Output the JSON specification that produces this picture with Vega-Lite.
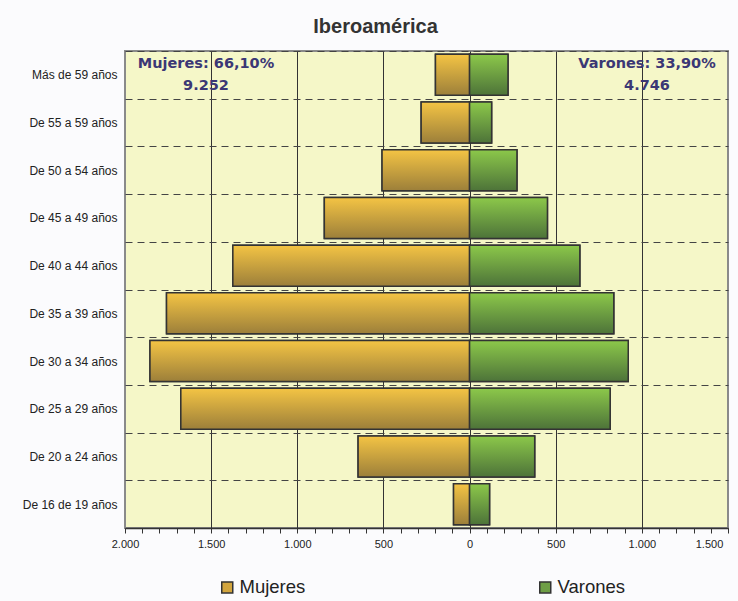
{
  "$schema": "https://vega.github.io/schema/vega-lite/v6.json",
  "autosize": {"type": "none"},
  "padding": {"left": 125, "top": 51, "right": 10, "bottom": 73},
  "width": 603,
  "height": 477,
  "background": "#fbfbfd",
  "title": {
    "text": "Iberoamérica",
    "anchor": "middle",
    "dx": -51,
    "offset": 8,
    "font": "Liberation Sans",
    "fontSize": 20,
    "fontWeight": "bold",
    "color": "#333333"
  },
  "datasets": {
    "barras": [
      {"grupo": "Más de 59 años", "sexo": "Mujeres", "valor": -198},
      {"grupo": "De 55 a 59 años", "sexo": "Mujeres", "valor": -281},
      {"grupo": "De 50 a 54 años", "sexo": "Mujeres", "valor": -508},
      {"grupo": "De 45 a 49 años", "sexo": "Mujeres", "valor": -843},
      {"grupo": "De 40 a 44 años", "sexo": "Mujeres", "valor": -1374},
      {"grupo": "De 35 a 39 años", "sexo": "Mujeres", "valor": -1759},
      {"grupo": "De 30 a 34 años", "sexo": "Mujeres", "valor": -1855},
      {"grupo": "De 25 a 29 años", "sexo": "Mujeres", "valor": -1676},
      {"grupo": "De 20 a 24 años", "sexo": "Mujeres", "valor": -647},
      {"grupo": "De 16 de 19 años", "sexo": "Mujeres", "valor": -93},
      {"grupo": "Más de 59 años", "sexo": "Varones", "valor": 223},
      {"grupo": "De 55 a 59 años", "sexo": "Varones", "valor": 128},
      {"grupo": "De 50 a 54 años", "sexo": "Varones", "valor": 275},
      {"grupo": "De 45 a 49 años", "sexo": "Varones", "valor": 452},
      {"grupo": "De 40 a 44 años", "sexo": "Varones", "valor": 640},
      {"grupo": "De 35 a 39 años", "sexo": "Varones", "valor": 837},
      {"grupo": "De 30 a 34 años", "sexo": "Varones", "valor": 921},
      {"grupo": "De 25 a 29 años", "sexo": "Varones", "valor": 816},
      {"grupo": "De 20 a 24 años", "sexo": "Varones", "valor": 378},
      {"grupo": "De 16 de 19 años", "sexo": "Varones", "valor": 116}
    ],
    "notas": [
      {"grupo": "Más de 59 años", "valor": -1530, "linea1": "Mujeres: 66,10%", "linea2": "9.252"},
      {"grupo": "Más de 59 años", "valor": 1030, "linea1": "Varones: 33,90%", "linea2": "4.746"}
    ]
  },
  "encoding": {
    "x": {
      "field": "valor",
      "type": "quantitative",
      "scale": {"domain": [-2000, 1500], "nice": false, "zero": false},
      "axis": {
        "title": null,
        "values": [-2000,-1900,-1800,-1700,-1600,-1500,-1400,-1300,-1200,-1100,-1000,-900,-800,-700,-600,-500,-400,-300,-200,-100,0,100,200,300,400,500,600,700,800,900,1000,1100,1200,1300,1400,1500],
        "labelExpr": "datum.value % 500 === 0 ? replace(format(abs(datum.value), ','), ',', '.') : ''",
        "labelFont": "Liberation Sans",
        "labelFontSize": 11,
        "labelColor": "#222222",
        "labelPadding": 5,
        "labelFlush": false,
        "labelOverlap": false,
        "labelOffset": {"condition": {"test": "datum.value === 1500", "value": -19}, "value": 0},
        "tickSize": 5,
        "tickColor": "#333333",
        "domainColor": "#333333",
        "domainWidth": 1.5,
        "grid": true,
        "gridColor": "#333333",
        "gridWidth": 1,
        "gridOpacity": {"condition": {"test": "datum.value % 500 === 0 && datum.value > -2000 && datum.value < 1500", "value": 1}, "value": 0}
      }
    },
    "y": {
      "field": "grupo",
      "type": "nominal",
      "sort": ["Más de 59 años", "De 55 a 59 años", "De 50 a 54 años", "De 45 a 49 años", "De 40 a 44 años", "De 35 a 39 años", "De 30 a 34 años", "De 25 a 29 años", "De 20 a 24 años", "De 16 de 19 años"],
      "scale": {"paddingInner": 0, "paddingOuter": 0},
      "axis": {
        "title": null,
        "ticks": false,
        "domain": false,
        "tickBand": "extent",
        "grid": true,
        "gridDash": [7, 5],
        "gridColor": "#444444",
        "gridWidth": 1,
        "labelFont": "Liberation Sans",
        "labelFontSize": 12,
        "labelColor": "#222222",
        "labelPadding": 8
      }
    }
  },
  "layer": [
    {
      "data": {"name": "barras"},
      "mark": {"type": "bar", "height": {"band": 0.86}, "stroke": "#333333", "strokeWidth": 1.5},
      "encoding": {
        "fill": {
          "field": "sexo",
          "type": "nominal",
          "scale": {"domain": ["Mujeres", "Varones"], "range": ["#D2A53E", "#6E9E45"]},
          "legend": {
            "title": null,
            "orient": "none",
            "legendX": 93,
            "legendY": 527,
            "direction": "horizontal",
            "symbolType": "square",
            "symbolSize": 121,
            "symbolStrokeColor": "#333333",
            "symbolStrokeWidth": 1.5,
            "labelFont": "Liberation Sans",
            "labelFontSize": 18.5,
            "labelColor": "#222222",
            "labelOffset": 3,
            "columnPadding": 230,
            "padding": 0
          }
        }
      }
    },
    {
      "data": {"name": "barras"},
      "mark": {"type": "bar", "height": {"band": 0.86}, "stroke": "#333333", "strokeWidth": 1.5},
      "encoding": {
        "fill": {
          "condition": {
            "test": "datum.sexo === 'Mujeres'",
            "value": {"gradient": "linear", "x1": 0, "y1": 0, "x2": 0, "y2": 1, "stops": [{"offset": 0, "color": "#F4C444"}, {"offset": 1, "color": "#9C7F3A"}]}
          },
          "value": {"gradient": "linear", "x1": 0, "y1": 0, "x2": 0, "y2": 1, "stops": [{"offset": 0, "color": "#8CC84A"}, {"offset": 1, "color": "#4D7339"}]}
        }
      }
    },
    {
      "data": {"name": "notas"},
      "mark": {"type": "text", "font": "DejaVu Sans", "fontSize": 14.5, "fontWeight": "bold", "color": "#3B3775", "align": "center", "baseline": "alphabetic", "dy": -7},
      "encoding": {"text": {"field": "linea1"}}
    },
    {
      "data": {"name": "notas"},
      "mark": {"type": "text", "font": "DejaVu Sans", "fontSize": 14.5, "fontWeight": "bold", "color": "#3B3775", "align": "center", "baseline": "alphabetic", "dy": 15},
      "encoding": {"text": {"field": "linea2"}}
    }
  ],
  "config": {
    "view": {"fill": "#F5F7C8", "stroke": "#8a8a8a", "strokeWidth": 2}
  }
}
